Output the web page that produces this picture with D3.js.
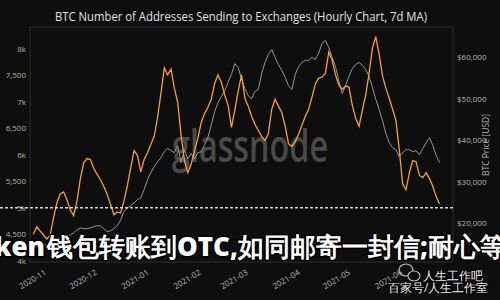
<!DOCTYPE html>
<html>
<head>
<meta charset="utf-8">
<script src="https://cdn.jsdelivr.net/npm/d3@7"></script>
<style>
  html, body { margin: 0; padding: 0; background: #0e0e0e; }
  svg { display: block; }
  text { font-family: "Open Sans", "Noto Sans", sans-serif; }
</style>
</head>
<body>
<div id="chart"></div>
<script>
// series sampled every 2 days from the start date
const startDate = "2020-10-23";
const stepDays = 2;

// addresses sending to exchanges (7d MA), left axis
const addresses = [
  4500, 4640, 4560, 4490, 4410, 4480, 4810, 5090, 5260, 5300,
  5150, 4960, 4850, 5130, 5550, 5850, 5930, 5910, 5740, 5630,
  5530, 5400, 5250, 5060, 4870, 4920, 4900, 5130, 5420, 5760,
  6080, 5990, 5680, 5910, 6040, 6200, 6350, 6710, 7160, 7640,
  7510, 7620, 7260, 6990, 6370, 5890, 5660, 5820, 6080, 6310,
  6610, 6780, 6900, 7050, 7350, 7510, 7370, 7130, 6940, 6520,
  6840, 7200, 7510, 7070, 6920, 6730, 6580, 6460, 6350, 6270,
  6400, 6860, 7050, 6920, 6800, 6540, 6210, 6160, 6250, 6390,
  6560, 6730, 6860, 7090, 7340, 7450, 7470, 7540, 7940, 7790,
  7510, 7320, 7240, 7300, 7280, 6940, 6690, 6540, 6840, 7130,
  7540, 8020, 8230, 7900, 7490, 7260, 7070, 6860, 6650, 6100,
  5450, 5340, 5660, 5890, 5870, 5610, 5570, 5660, 5550, 5400,
  5210, 5070
];

// BTC price in USD, right axis
const price = [
  14100, 14300, 14600, 14800, 14800, 15300, 15500, 16000, 16500, 16700,
  17000, 17200, 17700, 18400, 18900, 18700, 18700, 18900, 19200, 19400,
  19400, 18700, 18000, 18200, 18700, 19400, 20800, 22800, 23700, 24200,
  24900, 25700, 26100, 28100, 30500, 32200, 33600, 34800, 35800, 37200,
  38000, 37500, 37000, 38700, 34600, 37700, 35500, 36800, 35500, 37000,
  37200, 38900, 40600, 43700, 46900, 49000, 50500, 51900, 53900, 55800,
  58400, 57500, 54800, 52400, 50700, 50000, 51700, 52200, 56000, 58700,
  60600, 61800, 59900, 58200, 56800, 55100, 53100, 52200, 55800, 57700,
  58700, 59200, 59200, 59900, 59400, 60900, 63300, 64000, 62300, 59900,
  57700, 54300, 51200, 53100, 55300, 57200, 58200, 58700, 58000, 57000,
  55300, 52700, 49800, 47400, 44700, 41600, 39400, 38200, 37700, 36000,
  37000, 37700, 37700, 37200, 37500, 36500, 38000, 39400, 40600, 38700,
  36300, 34600
];

const leftTicks = [4000, 4500, 5000, 5500, 6000, 6500, 7000, 7500, 8000];
const rightTicks = [20000, 30000, 40000, 50000, 60000];
const monthTicks = ["2020-11-01", "2020-12-01", "2021-01-01", "2021-02-01",
  "2021-03-01", "2021-04-01", "2021-05-01", "2021-06-01"];
const xDomain = ["2020-10-21", "2021-06-30"];
const leftDomain = [3975, 8415];
const rightDomain = [10690, 67220];
const dashLevel = 5000;

const title = "BTC Number of Addresses Sending to Exchanges (Hourly Chart, 7d MA)";
const rightLabel = "BTC Price [USD]";
const overlayHead = "Token";
const overlayBody = "钱包转账到OTC,如同邮寄一封信;耐心等待";
const stampName = "人生工作吧";
const stampSource = "百家号/人生工作室";

const width = 500, height = 300;
const plot = { left: 30, right: 453, top: 27, bottom: 262 };

const parse = d3.timeParse("%Y-%m-%d");
const t0 = parse(startDate);
const dates = addresses.map((_, i) => d3.timeDay.offset(t0, i * stepDays));

const x = d3.scaleTime().domain(xDomain.map(parse)).range([plot.left, plot.right]);
const yLeft = d3.scaleLinear().domain(leftDomain).range([plot.bottom, plot.top]);
const yRight = d3.scaleLinear().domain(rightDomain).range([plot.bottom, plot.top]);

const svg = d3.select("#chart").append("svg")
  .attr("width", width).attr("height", height);

svg.append("rect").attr("width", width).attr("height", height).attr("fill", "#0e0e0e");

svg.append("text")
  .attr("x", 55).attr("y", 21)
  .attr("textLength", 372).attr("lengthAdjust", "spacingAndGlyphs")
  .attr("font-size", 13).attr("fill", "#e2e2e2")
  .text(title);

svg.append("rect")
  .attr("x", plot.left).attr("y", plot.top)
  .attr("width", plot.right - plot.left).attr("height", plot.bottom - plot.top)
  .attr("fill", "none").attr("stroke", "#2e2e2e");

// watermark behind the lines
svg.append("text")
  .attr("x", 172).attr("y", 162)
  .attr("textLength", 156).attr("lengthAdjust", "spacingAndGlyphs")
  .attr("font-size", 46).attr("font-weight", 600).attr("fill", "#4a4a4a")
  .text("glassnode");

const fmtLeft = v => v % 1000 === 0 ? (v / 1000) + "k" : d3.format(",")(v);

const gl = svg.append("g").attr("transform", `translate(${plot.left},0)`)
  .call(d3.axisLeft(yLeft).tickValues(leftTicks).tickSize(0).tickPadding(4).tickFormat(fmtLeft));
const gr = svg.append("g").attr("transform", `translate(${plot.right},0)`)
  .call(d3.axisRight(yRight).tickValues(rightTicks).tickSize(0).tickPadding(4).tickFormat(d3.format("$,")));
const gx = svg.append("g").attr("transform", `translate(0,${plot.bottom})`)
  .call(d3.axisBottom(x).tickValues(monthTicks.map(parse)).tickSize(0).tickFormat(d3.timeFormat("%Y-%m")));

[gl, gr, gx].forEach(g => {
  g.select(".domain").remove();
  g.selectAll("text")
    .attr("font-family", "Open Sans, Noto Sans, sans-serif")
    .attr("font-size", 8).attr("fill", "#b5b5b5");
});

gx.selectAll(".tick text")
  .attr("text-anchor", "end")
  .attr("y", 0).attr("dy", 0)
  .attr("transform", "translate(-2,12) rotate(-31)");

svg.append("text")
  .attr("transform", "translate(489,145) rotate(-90)")
  .attr("text-anchor", "middle")
  .attr("font-size", 8.5).attr("fill", "#b5b5b5")
  .text(rightLabel);

const priceLine = d3.line().x((d, i) => x(dates[i])).y(d => yRight(d));
const addrLine = d3.line().x((d, i) => x(dates[i])).y(d => yLeft(d));

svg.append("path").datum(price)
  .attr("d", priceLine)
  .attr("fill", "none").attr("stroke", "#96969c").attr("stroke-width", 1);

svg.append("path").datum(addresses)
  .attr("d", addrLine)
  .attr("fill", "none").attr("stroke", "#f5a133").attr("stroke-width", 1.3);

// overlay
svg.append("line")
  .attr("x1", 0).attr("x2", plot.right)
  .attr("y1", yLeft(dashLevel)).attr("y2", yLeft(dashLevel))
  .attr("stroke", "#d8d8d8").attr("stroke-width", 1.6).attr("stroke-dasharray", "3,2");

const overlay = svg.append("g")
  .attr("font-family", "Noto Sans CJK SC, sans-serif")
  .attr("font-weight", 800).attr("font-size", 26)
  .attr("fill", "#fff").attr("stroke", "#000").attr("stroke-width", 3)
  .attr("paint-order", "stroke").attr("stroke-linejoin", "round");

overlay.append("text").attr("x", 45).attr("y", 256).attr("text-anchor", "end").text(overlayHead);
overlay.append("text").attr("x", 47).attr("y", 256).text(overlayBody);

const stamp = svg.append("g");
stamp.append("ellipse").attr("cx", 406).attr("cy", 270).attr("rx", 7).attr("ry", 6)
  .attr("fill", "none").attr("stroke", "#bbb").attr("stroke-width", 1.2);
stamp.append("ellipse").attr("cx", 414).attr("cy", 276).attr("rx", 6).attr("ry", 5)
  .attr("fill", "#0e0e0e").attr("stroke", "#bbb").attr("stroke-width", 1.2);
stamp.append("text").attr("x", 423).attr("y", 280)
  .attr("font-family", "Noto Sans CJK SC, sans-serif").attr("font-size", 12)
  .attr("fill", "#f2f2f2").attr("stroke", "#000").attr("stroke-width", 2).attr("paint-order", "stroke")
  .text(stampName);
stamp.append("text").attr("x", 388).attr("y", 292)
  .attr("font-family", "Noto Sans CJK SC, sans-serif").attr("font-size", 12)
  .attr("fill", "#f2f2f2").attr("stroke", "#000").attr("stroke-width", 2).attr("paint-order", "stroke")
  .text(stampSource);
</script>
</body>
</html>
